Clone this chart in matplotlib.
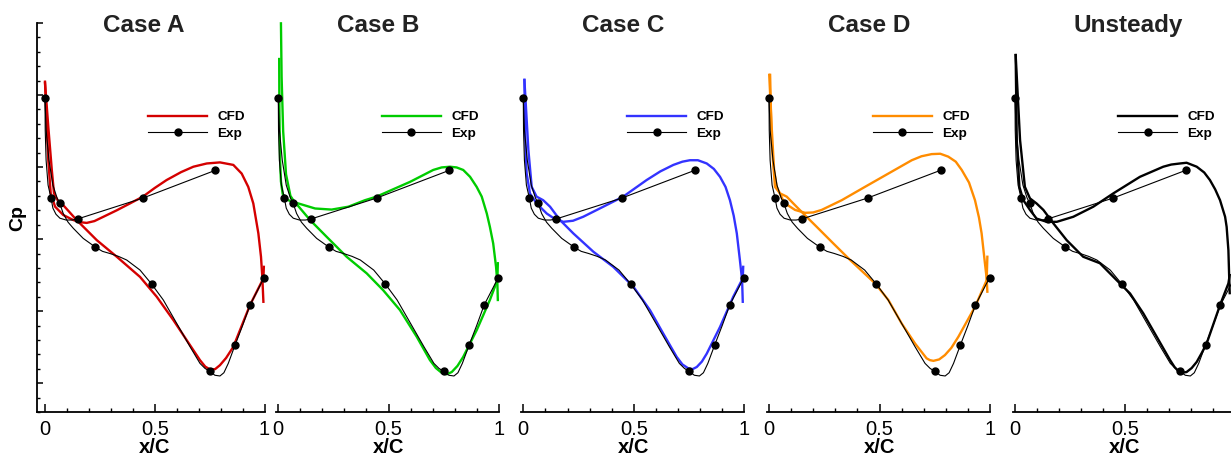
import matplotlib
matplotlib.use("Agg")
import matplotlib.pyplot as plt
import matplotlib.transforms as mtransforms
from matplotlib.lines import Line2D
from matplotlib.ticker import MultipleLocator

plt.rcParams["font.family"] = ["Liberation Sans", "DejaVu Sans"]

# experimental points (same in every panel)
EXP_X = [0.0, 0.027, 0.149, 0.446, 0.776, 0.067, 0.229, 0.486, 0.750, 0.866, 0.934, 0.998]
EXP_Y = [0.791, 0.515, 0.456, 0.514, 0.591, 0.500, 0.378, 0.275, 0.033, 0.106, 0.217, 0.293]

# experimental fitted line, upper and lower branch
EXP_UP_X = [0.0, 0.001, 0.005, 0.014, 0.027, 0.036, 0.050, 0.068, 0.096, 0.123, 0.149, 0.446, 0.776]
EXP_UP_Y = [0.791, 0.703, 0.619, 0.550, 0.515, 0.486, 0.469, 0.458, 0.453, 0.453, 0.456, 0.514, 0.591]
EXP_LO_X = [0.0, 0.005, 0.018, 0.036, 0.055, 0.067, 0.083, 0.105, 0.129, 0.174, 0.229, 0.262, 0.296,
            0.335, 0.372, 0.433, 0.486, 0.539, 0.600, 0.661, 0.706, 0.729, 0.750, 0.774, 0.797,
            0.815, 0.835, 0.866, 0.900, 0.934, 0.998]
EXP_LO_Y = [0.791, 0.703, 0.619, 0.550, 0.514, 0.500, 0.471, 0.447, 0.430, 0.402, 0.378, 0.366, 0.360,
            0.352, 0.342, 0.314, 0.275, 0.231, 0.166, 0.101, 0.055, 0.041, 0.033, 0.022, 0.020,
            0.029, 0.055, 0.106, 0.160, 0.217, 0.293]

# CFD, case A
A_UP_X = [0.0, 0.005, 0.015, 0.026, 0.046, 0.083, 0.129, 0.16, 0.19, 0.225, 0.266, 0.327, 0.387,
          0.446, 0.5, 0.554, 0.62, 0.676, 0.737, 0.797, 0.858, 0.896, 0.926, 0.949, 0.972,
          0.984, 0.990, 0.995]
A_UP_Y = [0.837, 0.758, 0.619, 0.527, 0.49, 0.467, 0.453, 0.447, 0.445, 0.450, 0.462, 0.480, 0.499,
          0.518, 0.542, 0.564, 0.586, 0.601, 0.610, 0.613, 0.606, 0.582, 0.545, 0.499, 0.416,
          0.351, 0.295, 0.226]
A_LO_X = [0.0, 0.015, 0.031, 0.041, 0.061, 0.076, 0.144, 0.236, 0.327, 0.433, 0.509, 0.585,
          0.646, 0.706, 0.73, 0.752, 0.775, 0.797, 0.825, 0.858, 0.934, 0.995, 0.997]
A_LO_Y = [0.834, 0.712, 0.592, 0.527, 0.504, 0.499, 0.453, 0.397, 0.351, 0.295, 0.240, 0.175,
          0.119, 0.064, 0.046, 0.038, 0.039, 0.05, 0.07, 0.101, 0.217, 0.291, 0.323]

# CFD, case B
B_UP_X = [0.004, 0.005, 0.008, 0.012, 0.02, 0.045, 0.091, 0.167, 0.242, 0.318, 0.393, 0.446,
          0.52, 0.598, 0.703, 0.741, 0.779, 0.809, 0.839, 0.87, 0.9, 0.923, 0.946, 0.96,
          0.975, 0.988, 0.994, 0.996]
B_UP_Y = [0.90, 0.75, 0.62, 0.56, 0.525, 0.508, 0.499, 0.485, 0.482, 0.49, 0.508, 0.518,
          0.538, 0.559, 0.592, 0.599, 0.601, 0.599, 0.592, 0.573, 0.545, 0.518, 0.471, 0.434,
          0.388, 0.323, 0.277, 0.231]
B_LO_X = [0.012, 0.015, 0.022, 0.035, 0.055, 0.068, 0.144, 0.22, 0.31, 0.401, 0.476, 0.552,
          0.628, 0.688, 0.715, 0.741, 0.765, 0.787, 0.813, 0.839, 0.9, 0.96, 0.994, 0.996]
B_LO_Y = [0.999, 0.85, 0.70, 0.58, 0.52, 0.508, 0.453, 0.406, 0.351, 0.305, 0.258, 0.203,
          0.129, 0.064, 0.042, 0.029, 0.025, 0.031, 0.048, 0.073, 0.147, 0.231, 0.286, 0.333]

# CFD, case C
C_UP_X = [0.005, 0.008, 0.015, 0.03, 0.06, 0.106, 0.145, 0.181, 0.225, 0.271, 0.362, 0.452,
          0.558, 0.62, 0.679, 0.72, 0.754, 0.79, 0.83, 0.862, 0.89, 0.915, 0.935, 0.952,
          0.966, 0.98, 0.99, 0.993]
C_UP_Y = [0.842, 0.694, 0.583, 0.527, 0.499, 0.471, 0.455, 0.448, 0.451, 0.462, 0.49, 0.518,
          0.564, 0.588, 0.606, 0.615, 0.619, 0.619, 0.61, 0.595, 0.573, 0.545, 0.508, 0.465,
          0.416, 0.342, 0.286, 0.226]
C_LO_X = [0.005, 0.023, 0.038, 0.06, 0.09, 0.121, 0.166, 0.226, 0.317, 0.407, 0.498, 0.573,
          0.633, 0.694, 0.72, 0.747, 0.766, 0.785, 0.808, 0.83, 0.89, 0.95, 0.993, 0.995]
C_LO_Y = [0.842, 0.647, 0.545, 0.518, 0.508, 0.49, 0.453, 0.416, 0.365, 0.323, 0.268, 0.203,
          0.138, 0.073, 0.052, 0.041, 0.039, 0.045, 0.06, 0.082, 0.156, 0.24, 0.291, 0.323]

# CFD, case D
D_UP_X = [0.001, 0.012, 0.023, 0.035, 0.07, 0.118, 0.163, 0.2, 0.238, 0.329, 0.434, 0.54,
          0.646, 0.69, 0.736, 0.775, 0.811, 0.845, 0.872, 0.905, 0.932, 0.95, 0.962, 0.977,
          0.985, 0.988]
D_UP_Y = [0.856, 0.712, 0.592, 0.545, 0.50, 0.481, 0.473, 0.474, 0.481, 0.508, 0.545, 0.582,
          0.619, 0.630, 0.636, 0.637, 0.629, 0.615, 0.592, 0.557, 0.508, 0.46, 0.416, 0.333,
          0.29, 0.254]
D_LO_X = [0.005, 0.012, 0.027, 0.05, 0.08, 0.11, 0.155, 0.216, 0.291, 0.367, 0.48, 0.54,
          0.6, 0.661, 0.713, 0.728, 0.744, 0.77, 0.796, 0.825, 0.857, 0.932, 0.985, 0.988]
D_LO_Y = [0.856, 0.666, 0.545, 0.527, 0.518, 0.499, 0.471, 0.434, 0.388, 0.342, 0.277, 0.231,
          0.166, 0.110, 0.069, 0.064, 0.062, 0.066, 0.078, 0.098, 0.129, 0.212, 0.286, 0.351]

# CFD, unsteady
U_UP_X = [0.003, 0.008, 0.02, 0.038, 0.068, 0.098, 0.144, 0.19, 0.265, 0.356, 0.447, 0.568,
          0.674, 0.71, 0.75, 0.78, 0.826, 0.86, 0.886, 0.91, 0.932, 0.955, 0.962, 0.97,
          0.974, 0.976]
U_UP_Y = [0.911, 0.675, 0.545, 0.508, 0.481, 0.457, 0.448, 0.448, 0.462, 0.49, 0.527, 0.573,
          0.601, 0.607, 0.610, 0.612, 0.601, 0.585, 0.564, 0.538, 0.508, 0.462, 0.434, 0.369,
          0.286, 0.25]
U_LO_X = [0.003, 0.023, 0.045, 0.068, 0.098, 0.129, 0.174, 0.235, 0.31, 0.386, 0.462, 0.523,
          0.583, 0.644, 0.705, 0.725, 0.742, 0.76, 0.78, 0.803, 0.826, 0.848, 0.871, 0.932,
          0.97, 0.976]
U_LO_Y = [0.911, 0.675, 0.545, 0.513, 0.499, 0.481, 0.444, 0.397, 0.351, 0.333, 0.286, 0.249,
          0.194, 0.129, 0.064, 0.045, 0.034, 0.029, 0.031, 0.042, 0.059, 0.083, 0.110, 0.217,
          0.277, 0.30]

TITLES = ["Case A", "Case B", "Case C", "Case D", "Unsteady"]
COLORS = ["#D40000", "#00CC00", "#3333FF", "#FF8C00", "#000000"]
CFD_UP = [(A_UP_X, A_UP_Y), (B_UP_X, B_UP_Y), (C_UP_X, C_UP_Y), (D_UP_X, D_UP_Y), (U_UP_X, U_UP_Y)]
CFD_LO = [(A_LO_X, A_LO_Y), (B_LO_X, B_LO_Y), (C_LO_X, C_LO_Y), (D_LO_X, D_LO_Y), (U_LO_X, U_LO_Y)]
X_TICKS = [0, 0.5, 1]
X_TICK_LABELS = ["0", "0.5", "1"]

W, H = 1231, 457
fig = plt.figure(figsize=(W / 100, H / 100), dpi=100, facecolor="white")

# layout in pixels: axes bottom / top, left edge of each panel, px per unit x/C
BOT_PX, TOP_PX = 412, 23
LEFT_PX = [37.1, 276.1, 521.1, 766.8, 1012.8]
XMIN = [-0.036, -0.01, -0.01, -0.01, -0.01]
SCALE = [219.5, 220.4, 221.0, 221.0, 220.0]

for i, title in enumerate(TITLES):
    width_px = (1.0 - XMIN[i]) * SCALE[i]
    ax = fig.add_axes([LEFT_PX[i] / W, 1 - BOT_PX / H, width_px / W, (BOT_PX - TOP_PX) / H])
    ax.set_xlim(XMIN[i], 1.0)
    ax.set_ylim(-0.08, 1.0)
    ax.patch.set_alpha(0)
    for side in ("top", "right"):
        ax.spines[side].set_visible(False)
    for spine in ax.spines.values():
        spine.set_linewidth(1.3)

    color = COLORS[i]
    lw = 1.7
    ux, uy = CFD_UP[i]
    lx, ly = CFD_LO[i]
    ax.plot(ux, uy, color=color, lw=lw, clip_on=False, zorder=2)
    ax.plot(lx, ly, color=color, lw=lw, clip_on=False, zorder=2)
    ax.plot(EXP_UP_X, EXP_UP_Y, color="black", lw=0.8, clip_on=False, zorder=3)
    ax.plot(EXP_LO_X, EXP_LO_Y, color="black", lw=0.8, clip_on=False, zorder=3)
    ax.plot(EXP_X, EXP_Y, "o", color="black", ms=5, clip_on=False, zorder=4)

    # the last panel runs past the picture's right edge, so its "1" is not shown
    labels = X_TICK_LABELS if i < len(TITLES) - 1 else X_TICK_LABELS[:-1] + [""]
    ax.set_xticks(X_TICKS, labels)
    ax.xaxis.set_minor_locator(MultipleLocator(0.1))
    ax.tick_params(axis="x", which="major", direction="in", length=5.5, width=1.1,
                   labelsize=14.5, pad=6)
    ax.tick_params(axis="x", which="minor", direction="in", length=3, width=1.0)

    if i == 0:
        ax.set_yticks([0, 0.2, 0.4, 0.6, 0.8, 1.0])
        ax.yaxis.set_minor_locator(MultipleLocator(0.04))
        ax.tick_params(axis="y", which="major", direction="in", length=4.5, width=1.1,
                       labelleft=False)
        ax.tick_params(axis="y", which="minor", direction="in", length=2.2, width=1.0)
    else:
        ax.spines["left"].set_visible(False)
        ax.set_yticks([])

    trans = mtransforms.blended_transform_factory(ax.transData, fig.transFigure)
    ax.text(0.265, 1 - 32.3 / H, title, transform=trans, fontsize=17.5,
            fontweight="bold", color="#222222", ha="left", va="baseline")
    ax.text(0.5, 1 - 453 / H, "x/C", transform=trans, fontsize=14.5,
            fontweight="bold", ha="center", va="baseline")

    handles = [Line2D([], [], color=color, lw=lw),
               Line2D([], [], color="black", lw=0.8, marker="o", ms=5)]
    ax.legend(handles, ["CFD", "Exp"], loc="center left", bbox_to_anchor=(0.469, 0.716),
              bbox_transform=ax.transData, frameon=False,
              prop={"weight": "bold", "size": 9.7}, handlelength=4.4, handletextpad=0.75,
              labelspacing=0.3, borderpad=0, borderaxespad=0)

fig.text(17.5 / W, 1 - 218 / H, "Cp", rotation=90, fontsize=14, fontweight="bold",
         ha="center", va="center")

fig.savefig("out.png", dpi=100, facecolor="white")
